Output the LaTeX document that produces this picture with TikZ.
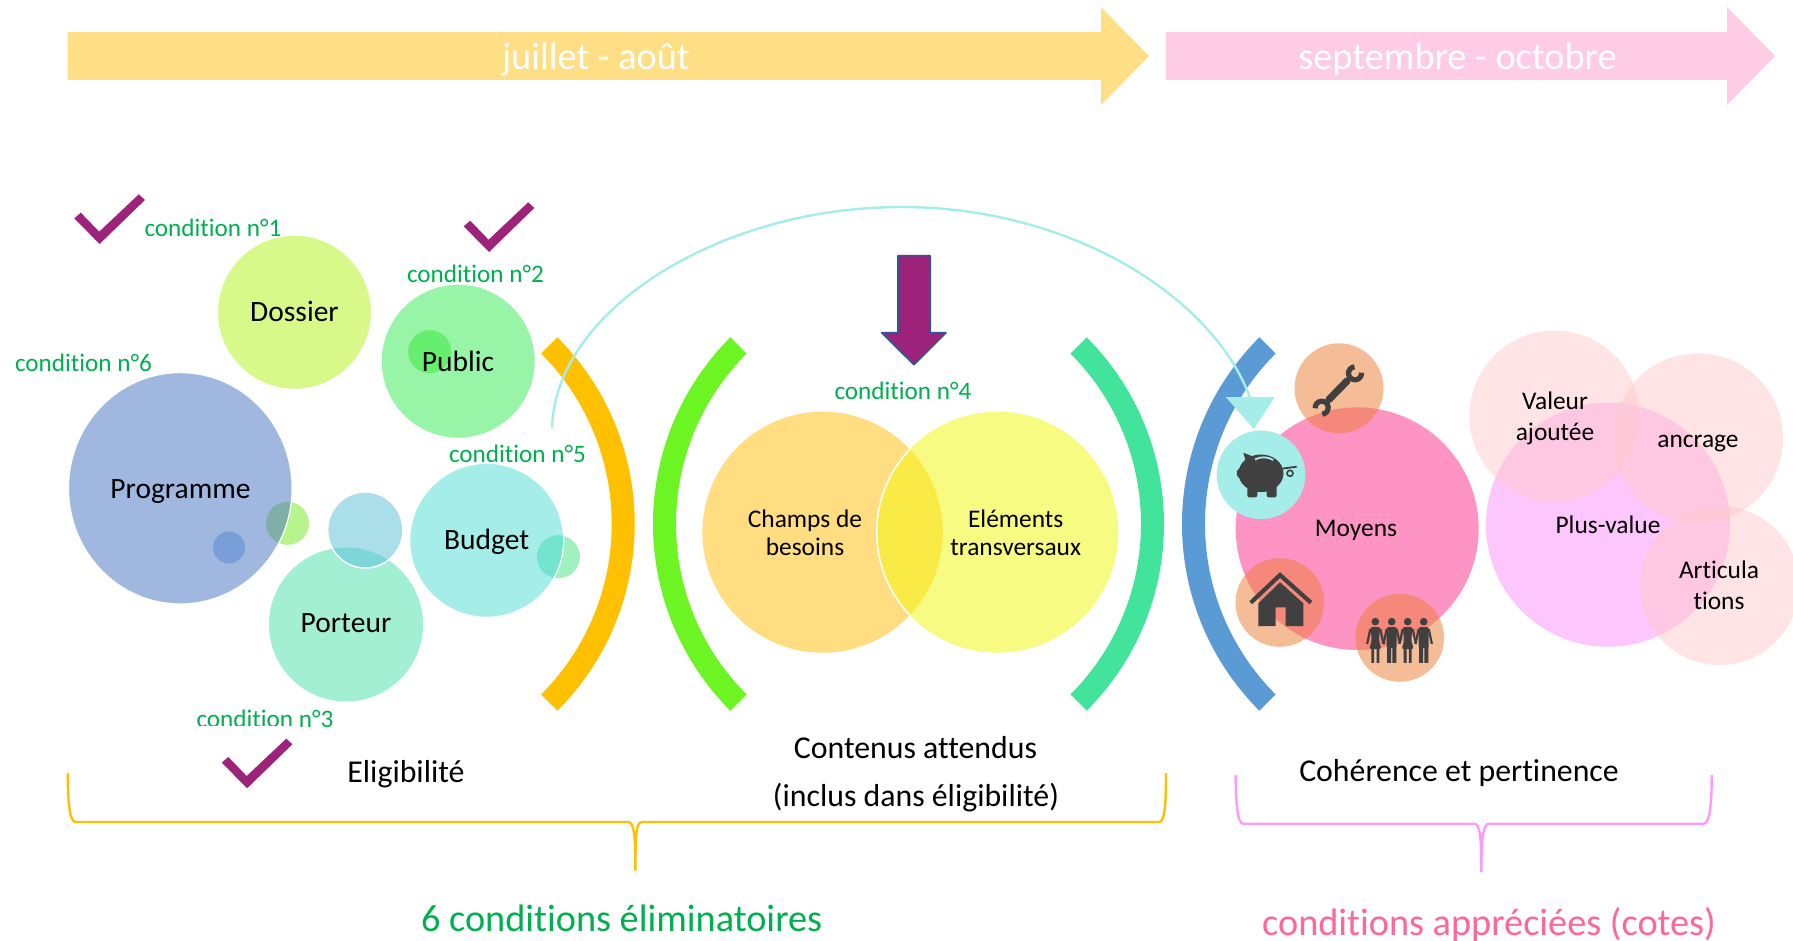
\documentclass[tikz,border=0pt]{standalone}
\usepackage{fontspec}
\setmainfont[Ligatures=NoCommon]{Carlito}
\usetikzlibrary{shapes.geometric}
\definecolor{cGreen}{HTML}{00B050}
\definecolor{cRose}{HTML}{FF6699}
\definecolor{cPurple}{HTML}{9C2379}
\definecolor{cTeal}{HTML}{A5EDE8}
\definecolor{cIcon}{HTML}{404040}
\definecolor{cOrangeA}{HTML}{ED7D31}
\definecolor{cSoft}{HTML}{FFCACC}
\tikzset{
  disc/.style 2 args={ellipse,minimum width=#1,minimum height=#2,inner sep=0pt,outer sep=0pt,anchor=center},
  whiteedge/.style={draw=white,line width=0.5pt},
  lab/.style={anchor=base,inner sep=0pt,yshift=-0.5pt,text=black,font=\fontsize{14.75}{17}\selectfont},
  labb/.style={anchor=base,inner sep=0pt,yshift=-0.3pt,text=black,font=\fontsize{15.9}{18}\selectfont},
  labs/.style={anchor=base,inner sep=0pt,yshift=-0.5pt,text=black,font=\fontsize{12.7}{15}\selectfont},
  cond/.style={anchor=base,inner sep=0pt,yshift=-0.5pt,text=cGreen,font=\fontsize{12.6}{14}\selectfont},
  big/.style={anchor=base,inner sep=0pt,font=\fontsize{19.15}{22}\selectfont},
  check/.pic={\fill[cPurple] (74.3,218.3)--(99.6,244)--(144.9,200)--(138.8,194.3)--(99.2,231.7)--(80.8,212.7)--cycle;},
  band/.pic={\fill[pic actions] (-45:264) arc[start angle=-45,end angle=45,radius=264] -- (45:241) arc[start angle=45,end angle=-45,radius=241] -- cycle;},
  bandl/.pic={\fill[pic actions] (225:264) arc[start angle=225,end angle=135,radius=264] -- (135:241) arc[start angle=135,end angle=225,radius=241] -- cycle;},
  manicon/.pic={
    \fill[cIcon] (0,621.7) circle[radius=3.8];
    \fill[cIcon,rounded corners=1pt] (-5,627) rectangle (5,648);
    \fill[cIcon] (-4.7,646) rectangle (-0.7,662.8) (0.7,646) rectangle (4.7,662.8);
    \draw[cIcon,line width=1.1pt] (-5,629)--(-8.2,644) (5,629)--(8.2,644);
  },
  womanicon/.pic={
    \fill[cIcon] (0,621.7) circle[radius=3.8];
    \fill[cIcon,rounded corners=1pt] (-5,627) -- (5,627) -- (3.5,640) -- (6,649) -- (-6,649) -- (-3.5,640) -- cycle;
    \fill[cIcon] (-4,647) rectangle (-1.2,662.8) (1.2,647) rectangle (4,662.8);
    \draw[cIcon,line width=1.1pt] (-5,629)--(-8.2,644) (5,629)--(8.2,644);
  }
}
\begin{document}
\begin{tikzpicture}[x=0.5pt,y=-0.5pt]
\useasboundingbox (0,0) rectangle (1793,941);
\fill[white] (0,0) rectangle (1793,941);

% top arrows
\fill[fill={rgb,255:red,255;green,223;blue,133}] (67.5,32) -- (1101,32) -- (1101,7) -- (1149,56) -- (1101,105) -- (1101,80) -- (67.5,80) -- cycle;
\fill[fill={rgb,255:red,255;green,204;blue,229}] (1165.5,32) -- (1727,32) -- (1727,7) -- (1775,56) -- (1727,105) -- (1727,80) -- (1165.5,80) -- cycle;
\node[big,text=white] (juillet) at (596,70) {juillet - août};
\node[big,text=white] (septembre) at (1457.5,70) {septembre - octobre};

% checks
\pic {check};
\pic at (389.4,8) {check};
\pic at (147.5,544.3) {check};

% small discs behind
\fill[fill={rgb,255:red,184;green,244;blue,142}] (287.5,523.3) circle[radius=21.5];
\fill[fill={rgb,255:red,160;green,240;blue,192}] (558.4,556.7) circle[radius=21.5];

% left group
\node[disc={77pt}{77pt},fill={rgb,255:red,214;green,249;blue,138},whiteedge] (dossier) at (294.5,312.2) {};
\node[disc={77pt}{77pt},fill={rgb,255:red,152;green,244;blue,166},whiteedge] (public) at (458.2,361.2) {};
\fill[fill={rgb,255:red,102;green,238;blue,110}] (429.7,351.7) circle[radius=21.5];
\node[disc={111.8pt}{115.7pt},fill={rgb,255:red,160;green,183;blue,224}] (programme) at (180.3,488.3) {};
\begin{scope}
  \clip (180.3,488.3) circle[x radius=111.8,y radius=115.7];
  \fill[fill={rgb,255:red,127;green,175;blue,166}] (287.5,523.3) circle[radius=21.5];
\end{scope}
\draw[white,line width=0.6pt] (180.3,488.3) circle[x radius=111.8,y radius=115.7];
\fill[fill={rgb,255:red,122;green,159;blue,216}] (229,547.5) circle[radius=16];
\node[disc={77pt}{77pt},fill={rgb,255:red,162;green,239;blue,212}] (porteur) at (346,624.5) {};
\node[disc={77pt}{77pt},fill=cTeal] (budget) at (486.7,540.3) {};
\begin{scope}
  \clip (486.7,540.3) circle[radius=77];
  \fill[fill={rgb,255:red,115;green,229;blue,204}] (558.4,556.7) circle[radius=21.5];
\end{scope}
\draw[white,line width=0.6pt] (486.7,540.3) circle[radius=77];
\node[disc={37.6pt}{38pt},fill={rgb,255:red,170;green,223;blue,233}] (smallblue) at (365.3,530) {};
\begin{scope}
  \clip (346,624.5) circle[radius=77];
  \fill[fill={rgb,255:red,125;green,214;blue,216}] (365.3,530) circle[x radius=37.6,y radius=38];
\end{scope}
\draw[white,line width=0.7pt] (365.3,530) circle[x radius=37.6,y radius=38];

\node[lab] (tdossier) at (294.5,320.7) {Dossier};
\node[lab] (tpublic) at (458,370) {Public};
\node[lab] (tprogramme) at (180.5,497.3) {Programme};
\node[lab] (tbudget) at (486.7,548.3) {Budget};
\node[lab] (tporteur) at (346,631) {Porteur};

\node[cond] (c1) at (213,236) {condition n°1};
\node[cond] (c2) at (475.5,281.7) {condition n°2};
\node[cond] (c6) at (83.5,370.7) {condition n°6};
\node[cond] (c5) at (517.5,461.7) {condition n°5};
\node[cond] (c4) at (903,398) {condition n°4};
\node[cond] (c3) at (265,726) {condition n°3};
\fill[white] (190,725.5) rectangle (300,733);

% bands
\pic[fill={rgb,255:red,255;green,192;blue,0}] at (370.7,524) {band};
\pic[fill={rgb,255:red,108;green,244;blue,35}] at (917,524) {bandl};
\pic[fill={rgb,255:red,66;green,227;blue,154}] at (900,524) {band};
\pic[fill={rgb,255:red,91;green,155;blue,213}] at (1446,524) {bandl};

% purple arrow
\filldraw[fill=cPurple,draw={rgb,255:red,47;green,85;blue,151},line width=0.8pt,line join=round] (898,255.7) -- (930.2,255.7) -- (930.2,332.7) -- (946,332.7) -- (913.9,364.7) -- (881.6,332.7) -- (898,332.7) -- cycle;

% venn
\node[disc={120.2pt}{120.5pt},fill={rgb,255:red,255;green,221;blue,128}] (champs) at (822.6,532.2) {};
\node[disc={120.8pt}{120.5pt},fill={rgb,255:red,247;green,251;blue,130}] (elements) at (997.5,532.2) {};
\begin{scope}
  \clip (822.6,532.2) circle[x radius=120.2,y radius=120.5];
  \fill[fill={rgb,255:red,249;green,234;blue,69}] (997.5,532.2) circle[x radius=120.8,y radius=120.5];
  \draw[white,line width=0.8pt] (997.5,532.2) circle[x radius=120.8,y radius=120.5];
\end{scope}
\node[labs] (tchamps) at (805,526) {Champs de};
\node[labs] (tbesoins) at (805,554) {besoins};
\node[labs] (telements) at (1015.7,526) {Eléments};
\node[labs] (ttransv) at (1015.7,554) {transversaux};

% moyens
\node[disc={121.5pt}{121.3pt},fill={rgb,255:red,254;green,148;blue,196}] (moyens) at (1357.2,528.7) {};
\node[disc={44.5pt}{45pt},fill=cOrangeA,fill opacity=0.5] (wrenchdisc) at (1339,388.3) {};
\node[disc={44.3pt}{44.3pt},fill=cOrangeA,fill opacity=0.5] (housedisc) at (1279.8,602.5) {};
\node[disc={44.3pt}{44pt},fill=cOrangeA,fill opacity=0.5] (peopledisc) at (1399.8,637.8) {};
\node[disc={44.3pt}{44.3pt},fill=cTeal] (piggydisc) at (1261,474.8) {};
\node[labs] (tmoyens) at (1356,535) {Moyens};

% plus-value
\node[disc={122pt}{122pt},fill={rgb,255:red,253;green,198;blue,252}] (plusvalue) at (1608,524.7) {};
\node[disc={85pt}{85.5pt},fill=cSoft,fill opacity=0.5] (valeur) at (1554.4,416) {};
\node[disc={85pt}{85pt},fill=cSoft,fill opacity=0.5] (ancrage) at (1698,438.3) {};
\node[disc={79.5pt}{79.5pt},fill=cSoft,fill opacity=0.5] (articulations) at (1719.5,585.5) {};
\node[labs] (tvaleur) at (1555,408.3) {Valeur};
\node[labs] (tajoutee) at (1555,439) {ajoutée};
\node[labs] (tancrage) at (1698,446.7) {ancrage};
\node[labs] (tplus) at (1608,532.7) {Plus-value};
\node[labs] (tarticula) at (1719,577.7) {Articula};
\node[labs] (ttions) at (1719,608.3) {tions};

% curved connector
\coordinate (curvestart) at (552,428);
\coordinate (curvetop) at (901,207);
\coordinate (curveend) at (1250,398);
\draw[cTeal,line width=1.2pt] (curvestart) .. controls (555,310) and (720,207) .. (curvetop) .. controls (1075,207) and (1215,300) .. (curveend);
\fill[cTeal] (1225.7,397) -- (1274.8,397) -- (1254,429) -- cycle;

% wrench
\draw[cIcon,line width=3.6pt,line cap=round] (1329,399.5) -- (1347,381);
\draw[cIcon,line width=2.6pt] (1355,373.3)++(-5:6.5) arc[start angle=-5,end angle=265,radius=6.5];
\draw[cIcon,line width=2.6pt] (1321.7,407.7)++(175:6.5) arc[start angle=175,end angle=445,radius=6.5];

% piggy
\fill[cIcon] (1261,473.3) circle[x radius=22.5,y radius=18.8];
\fill[cIcon] (1242.5,473.3) circle[radius=5.8];
\fill[cIcon] (1243.3,452.7) -- (1255,457.3) -- (1247.3,466.7) -- cycle;
\fill[cIcon,rounded corners=1pt] (1247.3,485) rectangle (1257.3,497.3);
\fill[cIcon,rounded corners=1pt] (1266.7,485) rectangle (1276.7,497.3);
\draw[cTeal,line width=0.9pt] (1255,459.5) .. controls (1260,456.5) and (1268,456.5) .. (1273.3,460);
\draw[cIcon,line width=0.9pt] (1283,468.5) -- (1296.7,466.7);
\draw[cIcon,line width=0.8pt] (1290,473.3) circle[radius=3];

% house
\draw[cIcon,line width=2.1pt] (1250.7,602.7) -- (1280,575) -- (1311,602.7);
\fill[cIcon] (1258.3,603.3) -- (1280,582.3) -- (1303.3,603.3) -- (1303.3,626) -- (1285.7,626) -- (1285.7,607.3) -- (1275.7,607.3) -- (1275.7,626) -- (1258.3,626) -- cycle;

% people
\pic at (1375.3,0) {womanicon};
\pic at (1391.7,0) {manicon};
\pic at (1407.7,0) {womanicon};
\pic at (1423.7,0) {manicon};

% bottom labels
\node[labb] (telig) at (406,781.7) {Eligibilité};
\node[labb] (tcontenus) at (915.5,758.3) {Contenus attendus};
\node[labb] (tinclus) at (916,806) {(inclus dans éligibilité)};
\node[labb] (tcoherence) at (1459,781) {Cohérence et pertinence};

% braces
\draw[color={rgb,255:red,255;green,192;blue,0},line width=1.2pt] (67.7,773) .. controls (68,800) and (69,822) .. (75.7,822) -- (628,822) .. controls (634,822) and (635.4,835) .. (635.4,870.7) .. controls (635.4,835) and (636,822) .. (642,822) -- (1159.5,822) .. controls (1165,822) and (1166,800) .. (1166,773);
\draw[color={rgb,255:red,255;green,153;blue,255},line width=1.2pt] (1235.5,775) .. controls (1236,802) and (1237,823.7) .. (1243.5,823.7) -- (1474.2,823.7) .. controls (1480,823.7) and (1481.4,837) .. (1481.4,872) .. controls (1481.4,837) and (1483,823.7) .. (1489.3,823.7) -- (1703.8,823.7) .. controls (1710,823.7) and (1711.7,802) .. (1711.7,775);

\node[big,text=cGreen] (tsix) at (621.7,931.5) {6 conditions éliminatoires};
\node[big,text=cRose] (tcond) at (1489,935.5) {conditions appréciées (cotes)};
\end{tikzpicture}
\end{document}
